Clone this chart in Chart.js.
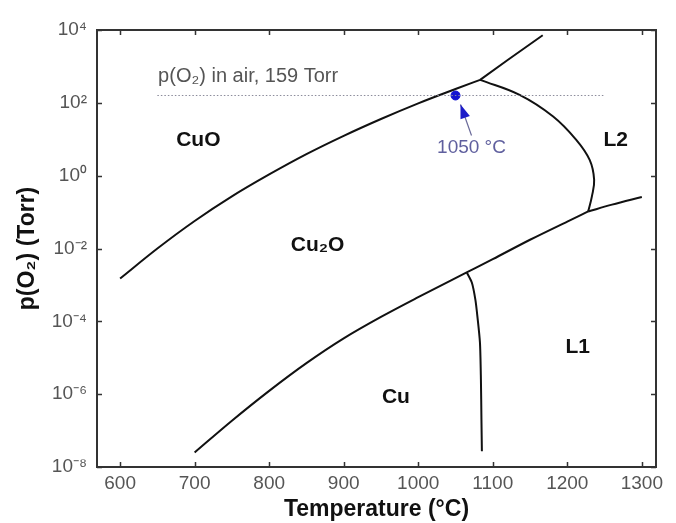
<!DOCTYPE html>
<html>
<head>
<meta charset="utf-8">
<title>Cu-O phase diagram</title>
<script src="https://cdn.jsdelivr.net/npm/chart.js@4.4.0/dist/chart.umd.min.js"></script>
<style>
  html, body { margin: 0; padding: 0; background: #fff; }
  canvas { display: block; }
</style>
</head>
<body>
<canvas id="phaseChart" width="676" height="523"></canvas>
<script>
'use strict';

// axis ticks
const tempTicks = [600, 700, 800, 900, 1000, 1100, 1200, 1300];
const pressTicks = [1e-8, 1e-6, 1e-4, 1e-2, 1, 1e2, 1e4];

// CuO / Cu2O boundary up to the triple point
const cuoTemps = [600, 650, 700, 750, 800, 850, 900, 950, 1000, 1050, 1083];
const cuoPress = [1.5e-3, 1.0e-2, 5.7e-2, 0.27, 1.08, 3.9, 12.4, 36, 97, 240, 427];

// CuO / L2 line above the triple point
const topTemps = [1083, 1120, 1167];
const topPress = [427, 1500, 7200];

// Cu2O / L2 loop
const loopTemps = [1083, 1136, 1181, 1212, 1230, 1236, 1233, 1228];
const loopPress = [427, 165, 42, 9.6, 2.7, 0.77, 0.27, 0.104];

// Cu / Cu2O, then Cu2O / L1
const cuTemps = [700, 750, 800, 850, 900, 950, 1000, 1065, 1100, 1150, 1200, 1228];
const cuPress = [2.5e-8, 1.86e-7, 1.23e-6, 7.1e-6, 3.4e-5, 1.32e-4, 4.6e-4, 2.2e-3, 5.1e-3, 1.74e-2, 5.5e-2, 0.104];

// L1 / L2
const liqTemps = [1228, 1260, 1300];
const liqPress = [0.104, 0.16, 0.26];

// Cu / L1 (melting)
const meltTemps = [1065.3, 1072, 1076.7, 1079.4, 1082.8, 1084.1, 1084.8, 1085.4];
const meltPress = [2.16e-3, 1.15e-3, 3.9e-4, 1.35e-4, 2.6e-5, 2.5e-6, 2.0e-7, 2.7e-8];

// p(O2) in air
const airTemps = [650, 1250];
const airPress = [159, 159];

// marked point
const markTemps = [1050];
const markPress = [159];

const SUP = {'-': '\u207B', '0': '\u2070', '1': '\u00B9', '2': '\u00B2', '3': '\u00B3',
             '4': '\u2074', '5': '\u2075', '6': '\u2076', '7': '\u2077', '8': '\u2078', '9': '\u2079'};

function pts(xs, ys) {
    return xs.map((x, i) => ({ x: x, y: ys[i] }));
}

function curve(xs, ys, tension, monotone) {
    return {
        data: pts(xs, ys),
        showLine: true,
        borderColor: '#111',
        borderWidth: 2,
        pointRadius: 0,
        tension: tension,
        cubicInterpolationMode: monotone ? 'monotone' : 'default',
        clip: false
    };
}

const FONT = "'Liberation Sans', Arial, sans-serif";

// frame, inward ticks and the text labels on the plot
const decorations = {
    id: 'decorations',
    afterDraw(chart) {
        const { ctx, chartArea: a, scales } = chart;
        const xs = scales.x, ys = scales.y;
        const tl = 5;

        ctx.save();
        ctx.strokeStyle = '#333';
        ctx.lineWidth = 1.5;
        ctx.beginPath();
        tempTicks.forEach(t => {
            const px = Math.round(xs.getPixelForValue(t)) + 0.5;
            ctx.moveTo(px, a.bottom); ctx.lineTo(px, a.bottom - tl);
            ctx.moveTo(px, a.top); ctx.lineTo(px, a.top + tl);
        });
        pressTicks.forEach(p => {
            const py = Math.round(ys.getPixelForValue(p)) + 0.5;
            ctx.moveTo(a.left, py); ctx.lineTo(a.left + tl, py);
            ctx.moveTo(a.right, py); ctx.lineTo(a.right - tl, py);
        });
        ctx.stroke();

        ctx.lineWidth = 2;
        ctx.strokeRect(a.left, a.top, a.right - a.left, a.bottom - a.top);

        // region names
        ctx.fillStyle = '#111';
        ctx.font = 'bold 21px ' + FONT;
        ctx.textAlign = 'center';
        ctx.textBaseline = 'middle';
        [
            ['CuO', 705, 9.6],
            ['Cu\u2082O', 865, 0.0127],
            ['Cu', 970, 8.5e-7],
            ['L1', 1214, 1.9e-5],
            ['L2', 1265, 9.6]
        ].forEach(([txt, t, p]) => {
            ctx.fillText(txt, xs.getPixelForValue(t), ys.getPixelForValue(p));
        });

        // air line caption
        ctx.font = '20px ' + FONT;
        ctx.fillStyle = '#555';
        ctx.textAlign = 'left';
        ctx.fillText('p(O\u2082) in air, 159 Torr', xs.getPixelForValue(651), ys.getPixelForValue(159) - 19);

        // arrow to the marked point
        const mx = xs.getPixelForValue(markTemps[0]);
        const my = ys.getPixelForValue(markPress[0]);
        const hx = mx + 5, hy = my + 9;
        const tx = mx + 16, ty = my + 40;
        const ang = Math.atan2(hy - ty, hx - tx);
        ctx.strokeStyle = '#6b6b9a';
        ctx.lineWidth = 1.2;
        ctx.beginPath();
        ctx.moveTo(tx, ty); ctx.lineTo(hx, hy);
        ctx.stroke();
        ctx.fillStyle = '#1c1cc8';
        ctx.beginPath();
        ctx.moveTo(hx, hy);
        ctx.lineTo(hx - 14 * Math.cos(ang) + 5 * Math.sin(ang), hy - 14 * Math.sin(ang) - 5 * Math.cos(ang));
        ctx.lineTo(hx - 14 * Math.cos(ang) - 5 * Math.sin(ang), hy - 14 * Math.sin(ang) + 5 * Math.cos(ang));
        ctx.closePath();
        ctx.fill();

        ctx.font = '19px ' + FONT;
        ctx.fillStyle = '#5f5f9e';
        ctx.textAlign = 'center';
        ctx.fillText('1050 \u00B0C', mx + 16, my + 52);
        ctx.restore();
    }
};

class PhaseChart {
    constructor(canvas) {
        this.chart = new Chart(canvas, {
            type: 'scatter',
            data: { datasets: this.buildDatasets() },
            options: this.buildOptions(),
            plugins: [decorations]
        });
    }

    buildDatasets() {
        return [
            {
                data: pts(airTemps, airPress),
                showLine: true,
                borderColor: '#8a8a9a',
                borderWidth: 1,
                borderDash: [1.5, 2],
                pointRadius: 0
            },
            curve(cuoTemps, cuoPress, 0, true),
            curve(topTemps, topPress, 0, false),
            curve(loopTemps, loopPress, 0.4, false),
            curve(cuTemps, cuPress, 0, true),
            curve(liqTemps, liqPress, 0, true),
            curve(meltTemps, meltPress, 0.25, false),
            {
                data: pts(markTemps, markPress),
                pointRadius: 4.5,
                pointBackgroundColor: '#1414d0',
                pointBorderColor: '#1414d0'
            }
        ];
    }

    buildOptions() {
        return {
            responsive: false,
            animation: false,
            layout: { padding: { top: 30, right: 20, left: 0, bottom: 0 } },
            plugins: { legend: { display: false }, tooltip: { enabled: false } },
            scales: {
                x: {
                    type: 'linear',
                    min: 569,
                    max: 1319,
                    afterBuildTicks: s => { s.ticks = tempTicks.map(v => ({ value: v })); },
                    afterFit: s => { s.height = 56; },
                    grid: { display: false, drawTicks: false },
                    border: { display: false },
                    ticks: {
                        padding: 5,
                        color: '#555',
                        font: { family: FONT, size: 19 },
                        maxRotation: 0,
                        callback: v => String(v)
                    },
                    title: {
                        display: true,
                        text: 'Temperature (\u00B0C)',
                        color: '#111',
                        font: { family: FONT, size: 23, weight: 'bold' },
                        padding: { top: 0, bottom: 0 }
                    }
                },
                y: {
                    type: 'logarithmic',
                    min: 1e-8,
                    max: 1e4,
                    afterBuildTicks: s => { s.ticks = pressTicks.map(v => ({ value: v })); },
                    afterFit: s => { s.width = 97; },
                    grid: { display: false, drawTicks: false },
                    border: { display: false },
                    ticks: {
                        padding: 10,
                        color: '#555',
                        font: { family: FONT, size: 19 },
                        callback: v => '10' + String(Math.round(Math.log10(v))).split('').map(c => SUP[c]).join('')
                    },
                    title: {
                        display: true,
                        text: 'p(O\u2082) (Torr)',
                        color: '#111',
                        font: { family: FONT, size: 23, weight: 'bold' },
                        padding: { top: 14, bottom: 0 }
                    }
                }
            }
        };
    }
}

window.onload = () => {
    new PhaseChart(document.getElementById('phaseChart'));
};
</script>
</body>
</html>
